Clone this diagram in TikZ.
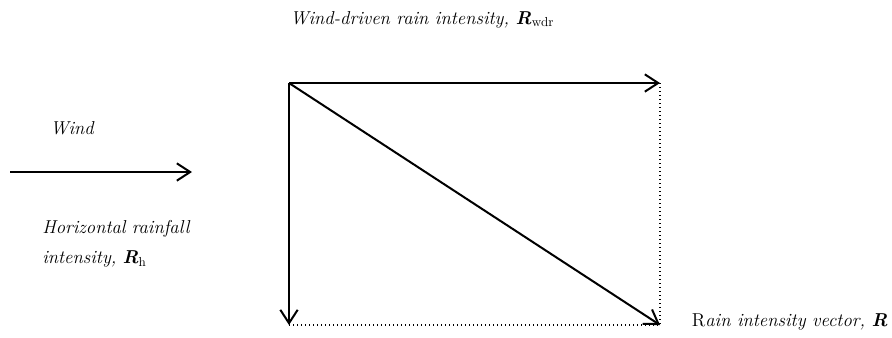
\documentclass[tikz,border=0pt]{standalone}
\usepackage{xcolor}
\usepackage{tikz}
\usetikzlibrary{arrows.meta,positioning}
\definecolor{ink}{HTML}{000000}

\newcommand{\vecR}{{\bfseries\itshape R}}

\begin{document}
\begin{tikzpicture}[
  x=0.75pt,y=-0.75pt,
  every node/.style={font=\fontsize{14}{22.5}\selectfont\itshape,text=ink,inner sep=0pt},
  vec/.style={-{Straight Barb[length=10pt,width=13pt,line width=1.5pt]},draw=ink,line width=1.5pt},
  guide/.style={draw=ink,line width=0.8pt,dash pattern=on 0.8pt off 2.2pt},
  caption/.style={anchor=base west,align=left}
]
\useasboundingbox (0,0) rectangle (892,337);

\coordinate (origin) at (289,83);
\coordinate (wdr) at (660,83);
\coordinate (horiz) at (289,325);
\coordinate (rain) at (660,325);
\coordinate (windtail) at (10,172);
\coordinate (windtip) at (192,172);

\node[caption] (wdrlab) at (290,24) {Wind-driven rain intensity, \vecR\textsubscript{\upshape wdr}};
\node[caption] (windlab) at (50,134) {Wind};
\node[caption,anchor=north west,text width=180pt] (hlab) at (42,220)
  {Horizontal rainfall\\intensity, \vecR\textsubscript{\upshape h}};
\node[caption,anchor=base east] (rainlab) at (888,326) {\upshape R\itshape ain intensity vector, \vecR};

\draw[guide] (wdr) -- (rain);
\draw[guide] (horiz) -- (rain);
\foreach \tip in {wdr,horiz,rain}
  \draw[vec] (origin) -- (\tip);
\draw[vec] (windtail) -- (windtip);
\end{tikzpicture}
\end{document}
